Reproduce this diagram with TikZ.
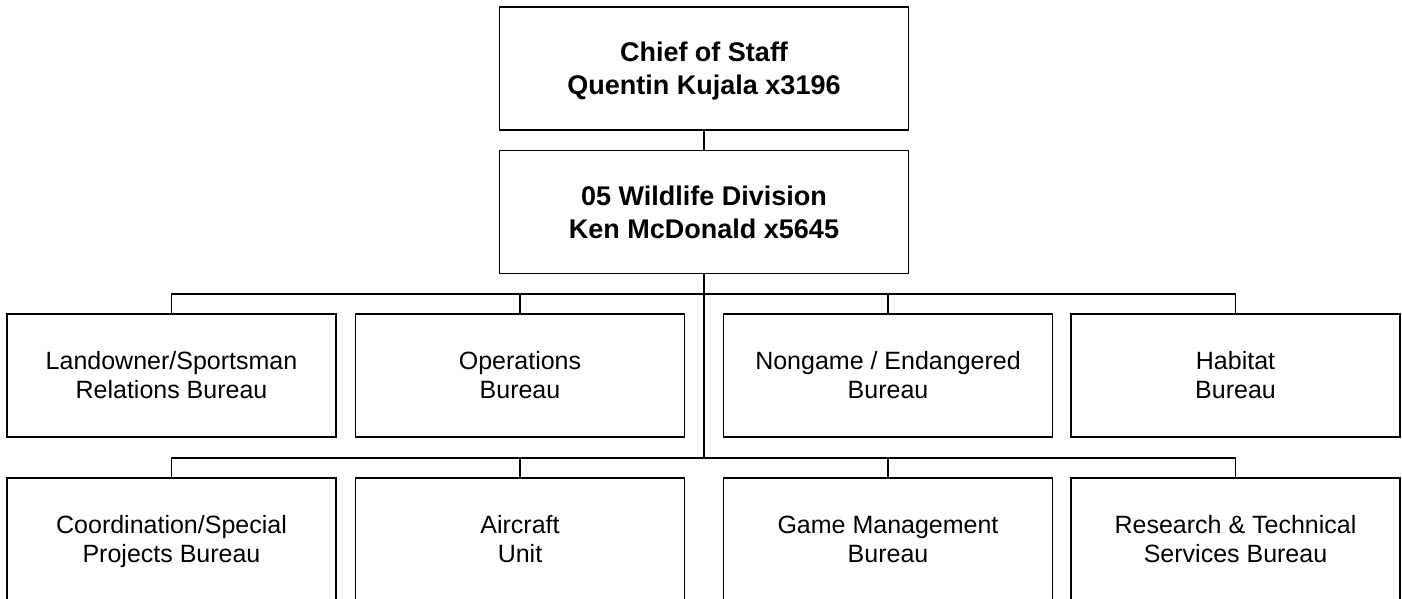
\documentclass[tikz,border=0pt]{standalone}
\usepackage{fontspec}
\setmainfont{Liberation Sans}
\begin{document}
\begin{tikzpicture}[x=1pt,y=-1pt,line width=1.4pt,
    headbox/.style={draw,minimum width=409pt,minimum height=123pt,inner sep=0pt,align=center,
        text height=52.3pt,text depth=0pt,font=\bfseries\fontsize{27}{33}\selectfont},
    unitbox/.style={draw,minimum width=329pt,minimum height=123pt,inner sep=0pt,align=center,
        text height=46.9pt,text depth=0pt,font=\fontsize{25}{29}\selectfont}]
            \useasboundingbox (0,0) rectangle (1402,598);
            \node [headbox] (chief) at (704,68.5) {Chief of Staff\\Quentin Kujala x3196};
            \node [headbox] (division) at (704,212) {05 Wildlife Division\\Ken McDonald x5645};

            % first row
            \node [unitbox] (landowner) at (171.5,375.5) {Landowner/Sportsman\\Relations Bureau};
            \node [unitbox] (operations) at (520,375.5) {Operations\\Bureau};
            \node [unitbox] (nongame) at (888,375.5) {Nongame / Endangered\\Bureau};
            \node [unitbox] (habitat) at (1235.5,375.5) {Habitat\\Bureau};

            % second row
            \node [unitbox] (coordination) at (171.5,539.5) {Coordination/Special\\Projects Bureau};
            \node [unitbox] (aircraft) at (520,539.5) {Aircraft\\Unit};
            \node [unitbox] (game) at (888,539.5) {Game Management\\Bureau};
            \node [unitbox] (research) at (1235.5,539.5) {Research \& Technical\\Services Bureau};

            \coordinate (busone) at (704,294);
            \coordinate (bustwo) at (704,458);

            \draw (chief) -- (division);
            \draw (division) -- (bustwo);
            \foreach \n in {landowner,operations,nongame,habitat}
                \draw (busone) -| (\n.north);
            \foreach \n in {coordination,aircraft,game,research}
                \draw (bustwo) -| (\n.north);
        \end{tikzpicture}
\end{document}
